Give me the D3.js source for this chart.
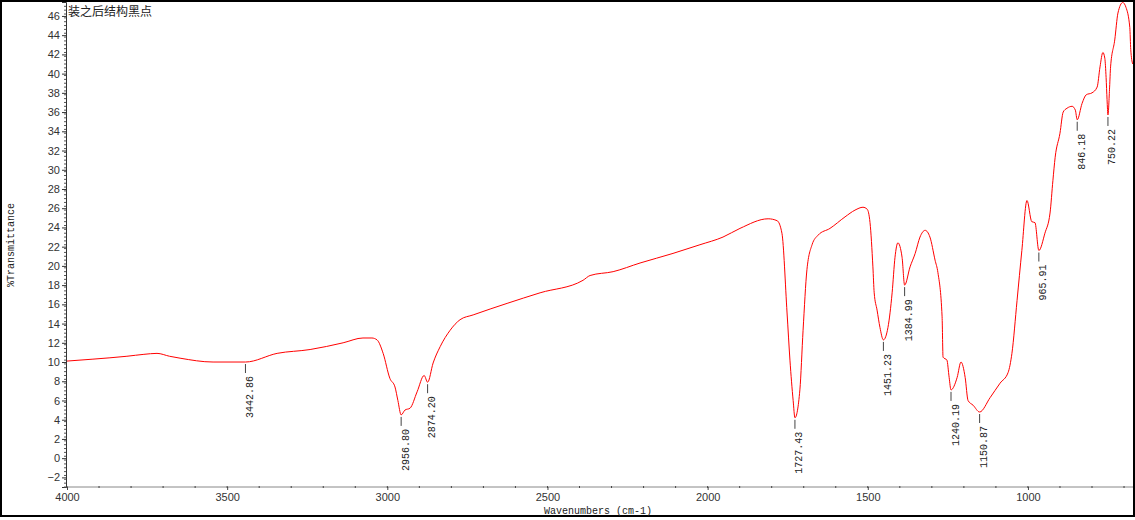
<!DOCTYPE html>
<html lang="zh">
<head>
  <meta charset="UTF-8">
  <title>装之后结构黑点</title>
  <script src="https://cdn.jsdelivr.net/npm/d3@7/dist/d3.min.js"></script>
  <style>
    body { margin: 0; background: #fff; }
    svg { display: block; }
    .tick text { font-family: "Liberation Sans", Arial, sans-serif; font-size: 11px; fill: #333; }
    .mono { font-family: "Liberation Mono", "DejaVu Sans Mono", monospace; }
  </style>
</head>
<body>
  <svg id="chart" width="1135" height="520"></svg>
  <script>
    // spectrum (wavenumber, %T)
    const wavenumbers = [4000, 3919, 3813, 3760, 3719, 3680, 3647, 3544, 3442.86, 3344, 3241, 3138, 3076, 3048, 3032, 3013,
      2992, 2976, 2967, 2956.8, 2945, 2929, 2907, 2885, 2874.2, 2857, 2835, 2804, 2773, 2732, 2626, 2523, 2389, 2367,
      2295, 2211, 2108, 2024, 1952, 1899, 1811, 1783, 1768, 1752, 1743, 1733, 1727.43, 1712, 1702, 1690, 1674, 1655,
      1618, 1571, 1540, 1515, 1502, 1493, 1484, 1480, 1471, 1462, 1451.23, 1437, 1424, 1415, 1406, 1393, 1384.99,
      1368, 1352, 1337, 1321, 1306, 1290, 1281, 1268, 1265, 1253, 1246, 1240.19, 1221, 1209, 1196, 1187, 1171,
      1150.87, 1118, 1087, 1062, 1050, 1034, 1019, 1003, 988, 978, 965.91, 947, 931, 922, 915, 900, 890, 878, 862,
      852, 846.18, 831, 818, 800, 784, 775, 766, 760, 756, 753, 750.22, 745, 742, 729, 719, 704, 694, 682, 679, 673];
    const transmittance = [10.1, 10.3, 10.6, 10.8, 10.9, 10.6, 10.4, 10.0, 10.0, 10.9, 11.3, 12.0, 12.5, 12.5, 12.3, 10.9,
      8.3, 7.4, 6.0, 4.5, 5.0, 5.2, 6.9, 8.6, 7.9, 9.9, 11.6, 13.3, 14.4, 14.9, 16.1, 17.2, 18.5, 19.0,
      19.4, 20.3, 21.3, 22.2, 23.0, 23.9, 24.9, 24.7, 23.4, 15.1, 10.2, 6.0, 4.2, 7.1, 13.3, 19.6, 22.2, 23.2,
      23.9, 25.1, 25.8, 26.1, 25.9, 24.5, 19.9, 17.2, 15.4, 13.6, 12.3, 13.6, 17.2, 20.9, 22.4, 20.9, 18.0,
      19.9, 21.3, 23.0, 23.7, 23.0, 20.6, 19.3, 14.7, 10.5, 10.2, 8.4, 7.1, 8.4, 10.0, 8.4, 6.0, 5.5,
      4.8, 6.3, 7.8, 8.9, 10.9, 16.4, 21.6, 26.8, 24.6, 24.5, 21.6, 23.4, 25.5, 28.9, 31.3, 33.8, 36.0, 36.4, 36.6,
      36.2, 35.2, 36.9, 37.8, 38.0, 38.6, 40.7, 42.2, 41.6, 39.6, 37.3, 35.7, 38.6, 40.7, 43.5, 46.3, 47.4, 46.9, 44.8, 42.5, 41.0];

    const peakLabels = ["3442.86", "2956.80", "2874.20", "1727.43", "1451.23", "1384.99", "1240.19", "1150.87", "965.91", "846.18", "750.22"];
    const xTicks = [4000, 3500, 3000, 2500, 2000, 1500, 1000];
    const yTicks = d3.range(-2, 47, 2);

    const title = "装之后结构黑点";
    const xTitle = "Wavenumbers (cm-1)";
    const yTitle = "%Transmittance";

    const svg = d3.select("#chart");
    const plotLeft = 67, plotRight = 1133, plotTop = 2, plotBottom = 487;

    const x = d3.scaleLinear().domain([4000, 672]).range([plotLeft, plotRight]);
    const y = d3.scaleLinear().domain([-3, 47.45]).range([plotBottom, plotTop]);

    // outer frame
    svg.append("rect")
      .attr("x", 1).attr("y", 1).attr("width", 1133).attr("height", 515)
      .attr("fill", "none").attr("stroke", "#000").attr("stroke-width", 2);

    // y axis with minor ticks
    const yAxis = svg.append("g")
      .attr("transform", `translate(${plotLeft - 1},0)`)
      .call(d3.axisLeft(y).tickValues(yTicks).tickSize(4).tickPadding(2).tickFormat(d3.format("d")));
    yAxis.select(".domain").attr("stroke", "#333");
    yAxis.selectAll(".tick line").attr("stroke", "#333");
    yAxis.selectAll(".minor")
      .data(d3.range(-3, 47.4, 0.4))
      .enter().append("line")
      .attr("class", "minor")
      .attr("x1", -2).attr("x2", 0)
      .attr("y1", d => y(d)).attr("y2", d => y(d))
      .attr("stroke", "#555");

    // x axis with minor ticks
    const xAxis = svg.append("g")
      .attr("transform", `translate(0,${plotBottom})`)
      .call(d3.axisBottom(x).tickValues(xTicks).tickSize(3).tickPadding(3).tickFormat(d3.format("d")));
    xAxis.select(".domain").attr("stroke", "#888").attr("d", `M${plotLeft},0H${plotRight}`);
    xAxis.selectAll(".tick line").attr("stroke", "#444");
    xAxis.selectAll(".minor")
      .data(d3.range(4000, 672, -100))
      .enter().append("line")
      .attr("class", "minor")
      .attr("x1", d => x(d)).attr("x2", d => x(d))
      .attr("y1", -1).attr("y2", 1)
      .attr("stroke", "#444");

    // axis titles
    svg.append("text")
      .attr("class", "mono")
      .attr("x", 598).attr("y", 514)
      .attr("text-anchor", "middle")
      .attr("font-size", 10)
      .attr("fill", "#222")
      .text(xTitle);

    svg.append("text")
      .attr("class", "mono")
      .attr("transform", "translate(14,245) rotate(-90)")
      .attr("text-anchor", "middle")
      .attr("font-size", 10)
      .attr("fill", "#222")
      .text(yTitle);

    svg.append("text")
      .attr("x", 68).attr("y", 16)
      .attr("font-family", "'Noto Sans CJK SC', sans-serif")
      .attr("font-size", 12)
      .attr("fill", "#222")
      .text(title);

    // spectrum
    const points = wavenumbers.map((w, i) => ({ w, t: transmittance[i] }));
    const line = d3.line()
      .x(d => x(d.w))
      .y(d => y(d.t))
      .curve(d3.curveMonotoneX);

    svg.append("defs").append("clipPath").attr("id", "plotClip")
      .append("rect").attr("x", plotLeft).attr("y", 0).attr("width", plotRight - plotLeft).attr("height", plotBottom);

    svg.append("path")
      .datum(points)
      .attr("clip-path", "url(#plotClip)")
      .attr("fill", "none")
      .attr("stroke", "#ff0000")
      .attr("stroke-width", 1)
      .attr("d", line);

    // peak labels: short tick under the minimum, text reading upward
    const peaks = peakLabels.map(label => {
      const w = +label;
      const p = points.reduce((a, b) => Math.abs(b.w - w) < Math.abs(a.w - w) ? b : a);
      return { label, px: x(p.w), py: y(p.t) };
    });

    const pk = svg.append("g");
    pk.selectAll("line")
      .data(peaks)
      .enter().append("line")
      .attr("x1", d => d.px).attr("x2", d => d.px)
      .attr("y1", d => d.py + 2).attr("y2", d => d.py + 11)
      .attr("stroke", "#444");

    pk.selectAll("text")
      .data(peaks)
      .enter().append("text")
      .attr("class", "mono")
      .attr("transform", d => `translate(${d.px + 4},${d.py + 14}) rotate(-90)`)
      .attr("text-anchor", "end")
      .attr("dy", "0.35em")
      .attr("font-size", 10)
      .attr("fill", "#222")
      .text(d => d.label);
  </script>
</body>
</html>
